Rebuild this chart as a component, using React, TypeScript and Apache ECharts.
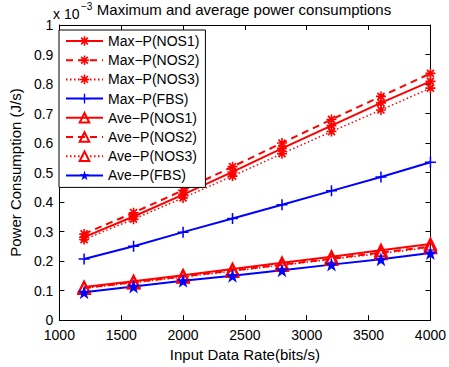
import React, { useEffect, useRef } from "react";
import * as echarts from "echarts";

const rates = [1200, 1600, 2000, 2400, 2800, 3200, 3600, 4000];
const maxNOS1 = [0.281, 0.351, 0.425, 0.502, 0.582, 0.659, 0.736, 0.809];
const maxNOS2 = [0.292, 0.364, 0.44, 0.52, 0.6, 0.68, 0.758, 0.836];
const maxNOS3 = [0.273, 0.342, 0.414, 0.488, 0.564, 0.639, 0.712, 0.786];
const maxFBS = [0.207, 0.25, 0.298, 0.344, 0.391, 0.438, 0.485, 0.535];
const aveNOS1 = [0.112, 0.132, 0.152, 0.173, 0.194, 0.215, 0.237, 0.258];
const aveNOS2 = [0.109, 0.128, 0.148, 0.168, 0.188, 0.208, 0.229, 0.249];
const aveNOS3 = [0.108, 0.127, 0.146, 0.166, 0.186, 0.206, 0.226, 0.246];
const aveFBS = [0.094, 0.114, 0.133, 0.15, 0.169, 0.188, 0.206, 0.227];

const seriesNames = [
  "Max\u2212P(NOS1)",
  "Max\u2212P(NOS2)",
  "Max\u2212P(NOS3)",
  "Max\u2212P(FBS)",
  "Ave\u2212P(NOS1)",
  "Ave\u2212P(NOS2)",
  "Ave\u2212P(NOS3)",
  "Ave\u2212P(FBS)",
];

const FONT = "'Liberation Sans', Arial, Helvetica, sans-serif";
const RED = "#ff0000";
const BLUE = "#0000ff";

const ASTERISK =
  "path://M-5,-0.8 L5,-0.8 L5,0.8 L-5,0.8 Z " +
  "M-0.8,-5 L0.8,-5 L0.8,5 L-0.8,5 Z " +
  "M-4.1,-2.9 L-2.9,-4.1 L4.1,2.9 L2.9,4.1 Z " +
  "M2.9,-4.1 L4.1,-2.9 L-2.9,4.1 L-4.1,2.9 Z";
const PLUS =
  "path://M-5,-0.7 L5,-0.7 L5,0.7 L-5,0.7 Z M-0.7,-5 L0.7,-5 L0.7,5 L-0.7,5 Z";
const STAR =
  "path://M0,-5 L1.12,-1.54 L4.76,-1.55 L1.81,0.59 L2.94,4.05 L0,1.9 L-2.94,4.05 L-1.81,0.59 L-4.76,-1.55 L-1.12,-1.54 Z";
const TRI = "path://M0,-5 L5,4 L-5,4 Z";

function pairs(vals: number[]) {
  return rates.map((r, i) => [r, vals[i]]);
}

export default function App() {
  const ref = useRef<HTMLDivElement>(null);
  useEffect(() => {
    if (!ref.current) return;
    const chart = echarts.init(ref.current, undefined, { renderer: "svg" });

    const mk = (
      name: string,
      vals: number[],
      color: string,
      lineType: any,
      lineWidth: number,
      symbol: string,
      symbolSize: number,
      hollow: boolean
    ) => ({
      name,
      type: "line",
      data: pairs(vals),
      symbol,
      symbolSize,
      showAllSymbol: true,
      lineStyle: { color, width: lineWidth, type: lineType },
      itemStyle: hollow
        ? { color: "rgba(0,0,0,0)", borderColor: color, borderWidth: 1.6 }
        : { color, borderWidth: 0 },
      color,
      emphasis: { disabled: true },
    });

    const option: any = {
      animation: false,
      grid: { left: 53, right: 15, top: 25, bottom: 43, containLabel: false },
      xAxis: [
        {
          type: "value",
          min: 1000,
          max: 4000,
          interval: 500,
          position: "bottom",
          name: "Input Data Rate(bits/s)",
          nameLocation: "middle",
          nameGap: 23,
          nameTextStyle: { fontFamily: FONT, fontSize: 15, color: "#000" },
          axisLine: { show: true, onZero: false, lineStyle: { color: "#000", width: 1 } },
          axisTick: { show: true, inside: true, length: 5, lineStyle: { color: "#000" } },
          axisLabel: {
            fontFamily: FONT,
            fontSize: 14,
            color: "#000",
            margin: 8,
            formatter: (v: number) => String(v),
          },
          splitLine: { show: false },
        },
        {
          type: "value",
          min: 1000,
          max: 4000,
          interval: 500,
          position: "top",
          axisLine: { show: true, onZero: false, lineStyle: { color: "#000", width: 1 } },
          axisTick: { show: true, inside: true, length: 5, lineStyle: { color: "#000" } },
          axisLabel: { show: false },
          splitLine: { show: false },
        },
      ],
      yAxis: [
        {
          type: "value",
          min: 0,
          max: 1,
          interval: 0.1,
          position: "left",
          name: "Power Consumption (J/s)",
          nameLocation: "middle",
          nameGap: 30,
          nameTextStyle: { fontFamily: FONT, fontSize: 15, color: "#000" },
          axisLine: { show: true, onZero: false, lineStyle: { color: "#000", width: 1 } },
          axisTick: { show: true, inside: true, length: 5, lineStyle: { color: "#000" } },
          axisLabel: {
            fontFamily: FONT,
            fontSize: 14,
            color: "#000",
            margin: 6,
            lineHeight: 13,
            formatter: (v: number) => String(+v.toFixed(1)),
          },
          splitLine: { show: false },
        },
        {
          type: "value",
          min: 0,
          max: 1,
          interval: 0.1,
          position: "right",
          axisLine: { show: true, onZero: false, lineStyle: { color: "#000", width: 1 } },
          axisTick: { show: true, inside: true, length: 5, lineStyle: { color: "#000" } },
          axisLabel: { show: false },
          splitLine: { show: false },
        },
      ],
      legend: {
        orient: "vertical",
        left: 59,
        top: 30,
        itemWidth: 37,
        itemHeight: 12,
        itemGap: 5.2,
        padding: [4, 6, 5, 6],
        backgroundColor: "#fff",
        borderColor: "#000",
        borderWidth: 1,
        borderRadius: 0,
        selectedMode: false,
        textStyle: { fontFamily: FONT, fontSize: 14, color: "#000" },
        data: seriesNames,
      },
      graphic: [
        {
          type: "text",
          x: 244,
          y: 9,
          style: {
            text: "Maximum and average power consumptions",
            font: `15px ${FONT}`,
            fill: "#000",
            textAlign: "center",
            textVerticalAlign: "middle",
          },
        },
        {
          type: "text",
          x: 53,
          y: 14,
          style: {
            text: "x 10",
            font: `14px ${FONT}`,
            fill: "#000",
            textAlign: "left",
            textVerticalAlign: "middle",
          },
        },
        {
          type: "text",
          x: 81,
          y: 6,
          style: {
            text: "\u22123",
            font: `10px ${FONT}`,
            fill: "#000",
            textAlign: "left",
            textVerticalAlign: "middle",
          },
        },
      ],
      series: [
        mk(seriesNames[0], maxNOS1, RED, "solid", 2, ASTERISK, 10, false),
        mk(seriesNames[1], maxNOS2, RED, [7, 5], 2, ASTERISK, 10, false),
        mk(seriesNames[2], maxNOS3, RED, [1.5, 2.5], 1.5, ASTERISK, 10, false),
        mk(seriesNames[3], maxFBS, BLUE, "solid", 2, PLUS, 11, false),
        mk(seriesNames[4], aveNOS1, RED, "solid", 2, TRI, 12, true),
        mk(seriesNames[5], aveNOS2, RED, [7, 5], 2, TRI, 12, true),
        mk(seriesNames[6], aveNOS3, RED, [1.5, 2.5], 1.5, TRI, 12, true),
        mk(seriesNames[7], aveFBS, BLUE, "solid", 2, STAR, 14, false),
      ],
    };
    chart.setOption(option);
    return () => chart.dispose();
  }, []);
  return (
    <div
      ref={ref}
      style={{ position: "absolute", left: 0, top: 0, width: 449, height: 367, background: "#fff" }}
    />
  );
}
